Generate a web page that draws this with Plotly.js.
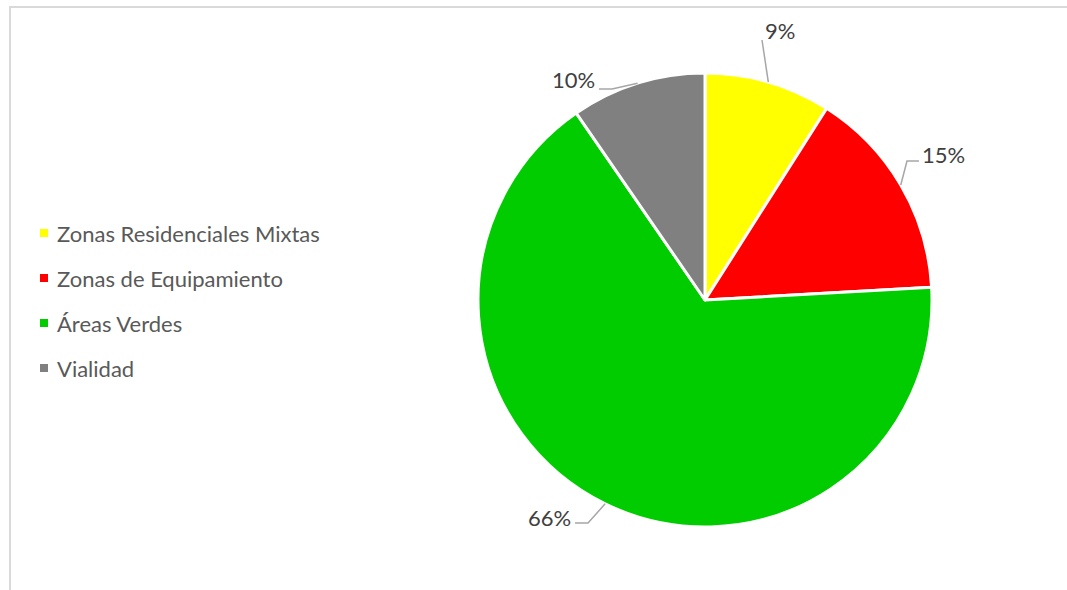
<!DOCTYPE html>
<html>
<head>
<meta charset="utf-8">
<script src="https://cdn.plot.ly/plotly-3.0.1.min.js"></script>
<style>
  html, body { margin: 0; padding: 0; background: #fff; }
  #frame { position: absolute; left: 9px; top: 6px; width: 1070px; height: 600px;
           border-top: 2px solid #d9d9d9; border-left: 2px solid #d9d9d9; box-sizing: border-box; }
  #chart { position: absolute; left: 0; top: 0; width: 1067px; height: 590px; }
</style>
</head>
<body>
<div id="frame"></div>
<div id="chart"></div>
<script>
// ---- data ----
const categories = ["Zonas Residenciales Mixtas", "Zonas de Equipamiento", "Áreas Verdes", "Vialidad"];
const values = [9.0, 15.1, 66.3, 9.6];
const colors = ["#FFFF00", "#FF0000", "#00CC00", "#808080"];

// ---- layout (pixels) ----
const W = 1067, H = 590;
const CX = 705, CY = 300, R = 227;
const FONT = "Lato, 'Open Sans', sans-serif";
const TXT = "#595959";
// label placement: label center and leader-line bend points (pixels)
const labelLayout = [
  {lx: 780, ly: 31, pts: [[762, 40]]},
  {lx: 943, ly: 155, pts: [[907, 161], [919, 161]]},
  {lx: 550, ly: 517, pts: [[588, 523], [575, 523]]},
  {lx: 573, ly: 80, pts: [[612, 89], [599, 89]]}
];
const legendLayout = {x: 40, y0: 233, dy: 45, box: 8, textX: 55};

const px = x => x / W;
const py = y => 1 - y / H;

const total = values.reduce((a, b) => a + b, 0);
const shapes = [];
const annotations = [];
let cum = 0;
values.forEach((v, i) => {
  const mid = (cum + v / 2) / total * 2 * Math.PI; // clockwise from 12 o'clock
  cum += v;
  const ex = CX + R * Math.sin(mid);
  const ey = CY - R * Math.cos(mid);
  const L = labelLayout[i];
  let path = `M${px(ex)},${py(ey)}`;
  L.pts.forEach(p => { path += ` L${px(p[0])},${py(p[1])}`; });
  shapes.push({type: "path", xref: "paper", yref: "paper", path: path,
    line: {color: "#a6a6a6", width: 1.5}});
  annotations.push({xref: "paper", yref: "paper", x: px(L.lx), y: py(L.ly),
    xanchor: "center", yanchor: "middle", showarrow: false,
    text: Math.round(v / total * 100) + "%",
    font: {family: FONT, size: 22, color: "#404040"}});
});

// manual legend
categories.forEach((c, i) => {
  const yc = legendLayout.y0 + i * legendLayout.dy;
  const b = legendLayout.box;
  shapes.push({type: "rect", xref: "paper", yref: "paper",
    x0: px(legendLayout.x), x1: px(legendLayout.x + b),
    y0: py(yc - b / 2), y1: py(yc + b / 2),
    fillcolor: colors[i], line: {width: 0}});
  annotations.push({xref: "paper", yref: "paper", x: px(legendLayout.textX), y: py(yc),
    xanchor: "left", yanchor: "middle", showarrow: false, text: c,
    font: {family: FONT, size: 22, color: TXT}});
});

const data = [{
  type: "pie",
  labels: categories,
  values: values,
  sort: false,
  direction: "clockwise",
  rotation: 0,
  marker: {colors: colors, line: {color: "#ffffff", width: 3}},
  textinfo: "none",
  hoverinfo: "label+percent",
  showlegend: false,
  domain: {x: [px(CX - R), px(CX + R)], y: [py(CY + R), py(CY - R)]}
}];

const layout = {
  width: W, height: H,
  margin: {l: 0, r: 0, t: 0, b: 0},
  paper_bgcolor: "rgba(0,0,0,0)",
  plot_bgcolor: "rgba(0,0,0,0)",
  showlegend: false,
  shapes: shapes,
  annotations: annotations,
  font: {family: FONT, color: TXT}
};

Plotly.newPlot("chart", data, layout, {displayModeBar: false, staticPlot: true});
</script>
</body>
</html>
